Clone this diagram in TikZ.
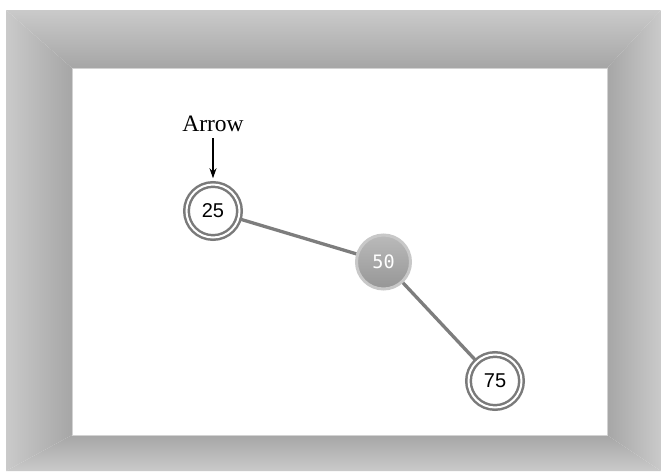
\documentclass[tikz,border=0pt]{standalone}
\usepackage{fontspec}
\setmainfont{Liberation Serif}
\setsansfont{Liberation Sans}
\setmonofont{DejaVu Sans Mono}
\usepackage{tikz}
\usetikzlibrary{positioning, arrows.meta}
\definecolor{frameout}{RGB}{202,202,202}
\definecolor{framein}{RGB}{166,166,166}
\definecolor{ring}{RGB}{122,122,122}
\definecolor{edgegray}{RGB}{125,125,125}
\definecolor{balltop}{RGB}{186,186,186}
\definecolor{ballbot}{RGB}{150,150,150}
\definecolor{ballrim}{RGB}{200,200,200}
\tikzset{
  leaf/.style={circle,draw=ring,line width=2.5pt,double=white,
    double distance=2pt,fill=white,inner sep=0pt,minimum size=53pt,
    font=\sffamily\fontsize{20}{22}\selectfont},
  ball/.style={circle,draw=ballrim,line width=3pt,top color=balltop,
    bottom color=ballbot,inner sep=0pt,minimum size=54pt,text=white,
    font=\ttfamily\fontsize{18.5}{20}\selectfont},
  link/.style={draw=edgegray,line width=3.3pt},
  arr/.style={-{Stealth[length=10pt,width=7pt]},line width=1.2pt},
  lbl/.style={font=\rmfamily\fontsize{23.5}{26}\selectfont,inner sep=2pt},
}
\begin{document}
\begin{tikzpicture}[x=1pt,y=-1pt]
  \useasboundingbox (0,0) rectangle (661,471);
  % bevelled frame
  \shade[top color=frameout,bottom color=framein]
    (6,10) -- (661,10) -- (607,68) -- (72,68) -- cycle;
  \shade[top color=framein,bottom color=frameout]
    (72,435) -- (607,435) -- (661,471) -- (6,471) -- cycle;
  \shade[left color=frameout,right color=framein]
    (6,10) -- (72,68) -- (72,435) -- (6,471) -- cycle;
  \shade[left color=framein,right color=frameout]
    (661,10) -- (607,68) -- (607,435) -- (661,471) -- cycle;
  \fill[white] (72,68) rectangle (607,435);
  \draw[gray!35,line width=0.8pt] (72,68) rectangle (607,435);
  % tree
  \node[leaf] (n25) at (213,211) {25};
  \node[ball] (n50) at (383.5,262) {50};
  \node[leaf] (n75) at (495,381) {75};
  \draw[link] (n25) -- (n50);
  \draw[link] (n50) -- (n75);
  \node[lbl,above=49pt of n25] (ptr) {Arrow};
  \draw[arr,shorten <=4pt,shorten >=5pt] (ptr) -- (n25);
\end{tikzpicture}
\end{document}
